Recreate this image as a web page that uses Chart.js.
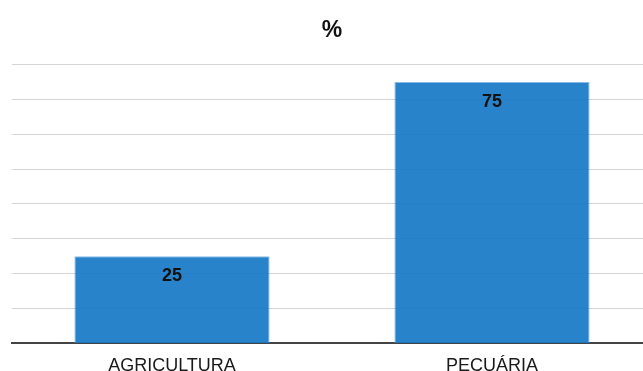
<!DOCTYPE html>
<html>
<head>
<meta charset="utf-8">
<script src="https://cdn.jsdelivr.net/npm/chart.js@4/dist/chart.umd.min.js"></script>
<style>
  html, body { margin: 0; padding: 0; background: #fff; overflow: hidden; }
  #wrap { width: 652px; height: 389px; }
</style>
</head>
<body>
<div id="wrap"><canvas id="myChart"></canvas></div>
<script>
const categories = ['AGRICULTURA', 'PECUÁRIA'];
const percentValues = [25, 75];
const yTicks = [0, 10, 20, 30, 40, 50, 60, 70, 80];

// value printed just under the top of each bar
const barValueLabels = {
    id: 'barValueLabels',
    afterDatasetsDraw(chart) {
        const ctx = chart.ctx;
        const meta = chart.getDatasetMeta(0);
        ctx.save();
        ctx.font = 'bold 18px "Liberation Sans", Arial, sans-serif';
        ctx.fillStyle = '#111';
        ctx.textAlign = 'center';
        ctx.textBaseline = 'middle';
        meta.data.forEach((bar, i) => {
            ctx.fillText(String(percentValues[i]), bar.x, bar.y + 20);
        });
        ctx.restore();
    }
};

const config = {
    type: 'bar',
    data: {
        labels: categories,
        datasets: [{
            data: percentValues,
            backgroundColor: 'rgba(22,120,197,0.92)',
            borderColor: 'rgba(120,180,230,0.9)',
            borderWidth: 1,
            categoryPercentage: 1,
            barPercentage: 0.61
        }]
    },
    options: {
        responsive: true,
        maintainAspectRatio: false,
        animation: false,
        layout: { padding: { left: 12, right: 0, top: 0, bottom: 0 } },
        plugins: {
            legend: { display: false },
            tooltip: { enabled: false },
            title: {
                display: true,
                text: '%',
                color: '#111',
                font: { family: '"Liberation Sans", Arial, sans-serif', size: 23, weight: 'bold' },
                padding: { top: 17, bottom: 20 }
            }
        },
        scales: {
            x: {
                grid: { display: false, drawTicks: false },
                border: { display: true, color: '#444', width: 2 },
                ticks: {
                    color: '#1a1a1a',
                    padding: 12,
                    font: { family: '"Liberation Sans", Arial, sans-serif', size: 18 }
                }
            },
            y: {
                min: yTicks[0],
                max: yTicks[yTicks.length - 1],
                afterBuildTicks(scale) {
                    scale.ticks = yTicks.map(v => ({ value: v }));
                },
                ticks: { display: false },
                grid: { color: '#d4d4d4', lineWidth: 1, drawTicks: false },
                border: { display: false }
            }
        }
    },
    plugins: [barValueLabels]
};

new Chart(document.getElementById('myChart').getContext('2d'), config);
</script>
</body>
</html>
